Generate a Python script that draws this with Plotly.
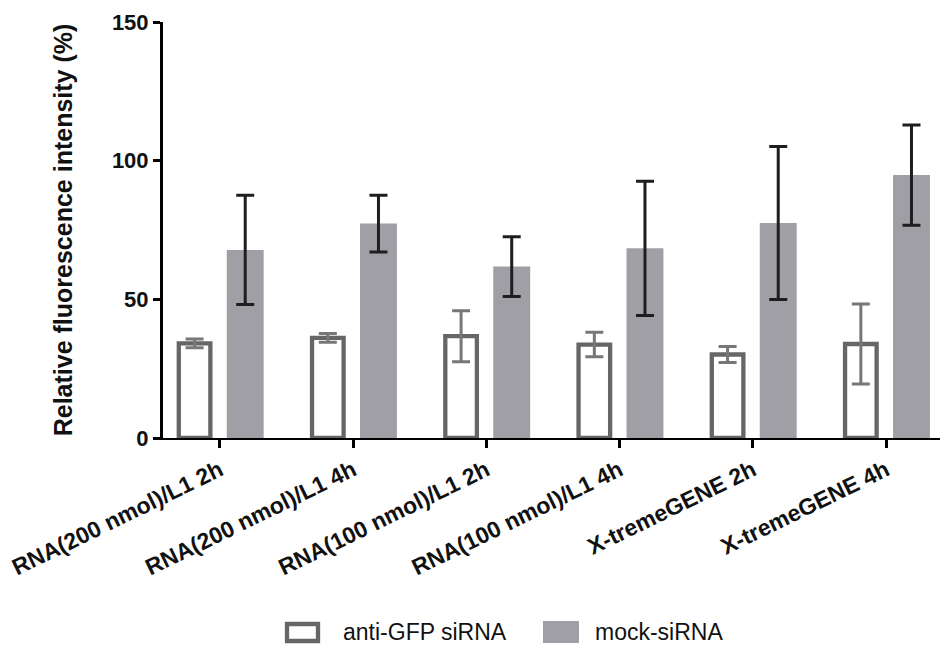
import plotly.graph_objects as go

categories = ["RNA(200 nmol)/L1 2h", "RNA(200 nmol)/L1 4h", "RNA(100 nmol)/L1 2h",
              "RNA(100 nmol)/L1 4h", "X-tremeGENE 2h", "X-tremeGENE 4h"]
series_names = ["anti-GFP siRNA", "mock-siRNA"]
anti_gfp = [34.1, 36.1, 36.7, 33.7, 30.1, 33.9]
anti_gfp_err = [1.6, 1.6, 9.2, 4.4, 2.9, 14.4]
mock = [67.8, 77.3, 61.8, 68.4, 77.5, 94.8]
mock_err = [19.7, 10.2, 10.8, 24.2, 27.6, 18.1]
y_ticks = [0, 50, 100, 150]

W, H = 942, 646
L, R, T, B = 163, 2, 22, 208
pw, ph = W - L - R, H - T - B

FONT = "Liberation Sans, Arial, sans-serif"
GRAY = "#a09fa5"
EDGE = "#666666"

xpos = list(range(len(categories)))

fig = go.Figure()
fig.add_trace(go.Bar(
    x=xpos, y=anti_gfp, name=series_names[0],
    width=0.237, offset=-0.3085,
    marker=dict(color="white", line=dict(color=EDGE, width=4.3)),
    error_y=dict(type="data", array=anti_gfp_err, visible=True,
                 color="#777777", thickness=3, width=9),
    showlegend=False,
))
fig.add_trace(go.Bar(
    x=xpos, y=mock, name=series_names[1],
    width=0.277, offset=0.0515,
    marker=dict(color=GRAY, line=dict(width=0)),
    error_y=dict(type="data", array=mock_err, visible=True,
                 color="#1e1e1e", thickness=3, width=9),
    showlegend=False,
))

def px_x(p):
    return (p - L) / pw

def px_y(p):
    return (H - B - p) / ph

shapes = [
    dict(type="rect", xref="paper", yref="paper",
         x0=px_x(287), x1=px_x(318), y0=px_y(641), y1=px_y(624),
         fillcolor="white", line=dict(color=EDGE, width=4.3)),
    dict(type="rect", xref="paper", yref="paper",
         x0=px_x(543), x1=px_x(579), y0=px_y(643), y1=px_y(621),
         fillcolor=GRAY, line=dict(width=0)),
]
annotations = [
    dict(text=series_names[0], xref="paper", yref="paper", x=px_x(341), y=px_y(632),
         xanchor="left", yanchor="middle", showarrow=False,
         font=dict(family=FONT, size=23, color="#111111")),
    dict(text=series_names[1], xref="paper", yref="paper", x=px_x(593), y=px_y(632),
         xanchor="left", yanchor="middle", showarrow=False,
         font=dict(family=FONT, size=23, color="#111111")),
]

fig.update_layout(
    width=W, height=H,
    margin=dict(l=L, r=R, t=T, b=B, pad=0),
    plot_bgcolor="white", paper_bgcolor="white",
    barmode="group",
    shapes=shapes, annotations=annotations,
    xaxis=dict(
        range=[-0.427, 5.404], tickmode="array", tickvals=xpos, ticktext=categories,
        tickangle=-26, showline=True, linecolor="black", linewidth=2,
        ticks="outside", ticklen=8, tickwidth=2.5, tickcolor="black",
        showgrid=False, zeroline=False,
        tickfont=dict(family=FONT, size=23, color="#111111", weight="bold"),
    ),
    yaxis=dict(
        range=[0, 150], tickvals=y_ticks, showline=True, linecolor="black", linewidth=3,
        ticks="outside", ticklen=7, tickwidth=3, tickcolor="black",
        showgrid=False, zeroline=False,
        tickfont=dict(family=FONT, size=22, color="#111111", weight="bold"),
        title=dict(text="Relative fluorescence intensity (%)", standoff=33,
                   font=dict(family=FONT, size=25, color="#111111", weight="bold")),
    ),
)

fig.write_html("out.html", config={"displayModeBar": False},
               post_script="document.body.style.margin='0';document.body.style.overflow='hidden';")
